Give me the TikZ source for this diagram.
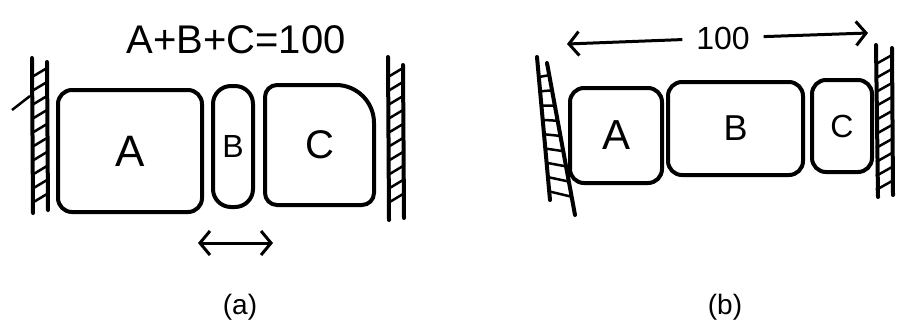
\documentclass[tikz,border=0pt]{standalone}
\usepackage{fontspec}
\setmainfont{Liberation Sans}
\usetikzlibrary{calc,arrows.meta}
\begin{document}
\begin{tikzpicture}[x=1pt, y=-1pt, line width=4pt,
    blk/.style={draw, rounded corners=14pt, inner sep=0pt, font=\fontsize{32}{38}\selectfont},
    wall/.style={line width=4pt, line cap=round},
    hatch/.style={line width=2.5pt},
    dim/.style={line width=3pt, >={Straight Barb[length=10pt,width=24pt]}}]
  \useasboundingbox (0,0) rectangle (899,322);
  % (a): A, B und C zwischen zwei Waenden
  \node[font=\fontsize{40}{48}\selectfont] (sum) at (236,40) {A+B+C=100};
  \draw[wall] (32,58) -- (33,213);
  \draw[wall] (47,62) -- (48,210);
  \foreach \y in {68,82,...,200} \draw[hatch] (32,\y+9) -- (47,\y);
  \draw[hatch] (12,110) -- (30,96);
  \draw[wall] (388,57) -- (389,220);
  \draw[wall] (403,65) -- (404,218);
  \foreach \y in {68,82,...,206} \draw[hatch] (388,\y+9) -- (403,\y);
  \node[blk, font=\fontsize{44}{52}\selectfont, minimum width=144pt, minimum height=122pt] (A1) at (130,151) {A};
  \node[blk, rounded corners=18pt, minimum width=40pt, minimum height=121pt] (B1) at (233,146.5) {B};
  \node[inner sep=0pt, minimum width=105pt, minimum height=116pt, font=\fontsize{40}{48}\selectfont] (C1) at (319.5,145) {C};
  \draw (C1.south) [rounded corners=12pt] -- (C1.south west) -- (C1.north west)
    [rounded corners=38pt] -- (C1.north east) [rounded corners=12pt] -- (C1.south east) -- cycle;
  \coordinate (gl) at (198,243);
  \coordinate (gr) at (273,243);
  \draw[dim, <->] (gl) -- (gr);
  \node[font=\fontsize{28}{34}\selectfont] (capa) at (240,307) {(a)};
  % (b): Gesamtlaenge 100
  \node[font=\fontsize{32}{38}\selectfont, inner sep=12pt] (len) at (723,38) {100};
  \coordinate (ll) at (567,44);
  \coordinate (rr) at (868,33);
  \draw[dim, ->] (len) -- (ll);
  \draw[dim, ->] (len) -- (rr);
  \draw[wall] (537,57) -- (550,200);
  \draw[wall] (547,63) -- (575,215);
  \foreach \t in {0.08,0.18,...,0.9}
    \draw[hatch] ($(537,57)!\t+0.06!(550,200)$) -- ($(547,63)!\t!(575,215)$);
  \draw[wall] (876,45) -- (878,197);
  \draw[wall] (892,48) -- (893,195);
  \foreach \y in {55,69,...,185} \draw[hatch] (876,\y+9) -- (892,\y);
  \node[blk, font=\fontsize{42}{50}\selectfont, minimum width=92pt, minimum height=95pt] (A2) at (616,135.5) {A};
  \node[blk, font=\fontsize{36}{42}\selectfont, minimum width=135pt, minimum height=93pt] (B2) at (735.5,128.5) {B};
  \node[blk, minimum width=60pt, minimum height=92pt] (C2) at (842,126) {C};
  \node[font=\fontsize{28}{34}\selectfont] (capb) at (725,307) {(b)};
\end{tikzpicture}
\end{document}
